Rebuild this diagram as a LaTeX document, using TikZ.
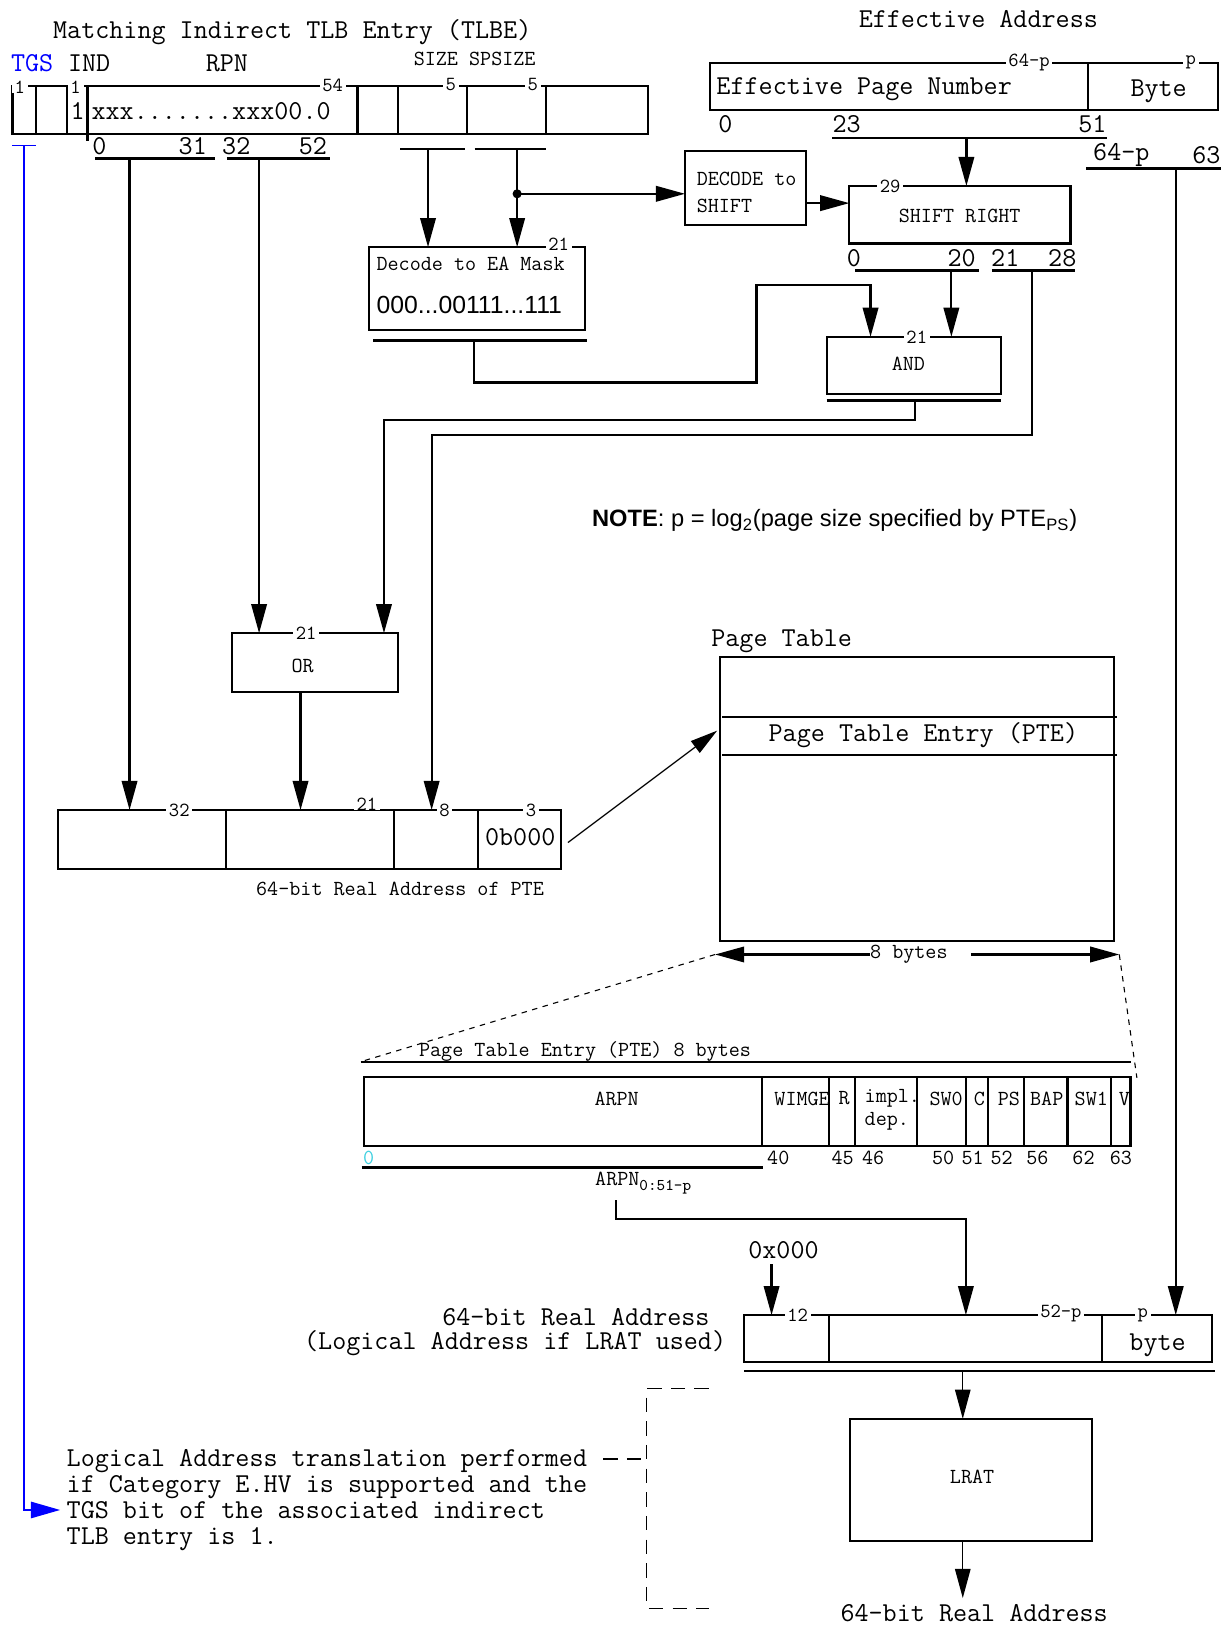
\documentclass[tikz,border=0pt]{standalone}
\usepackage{fontspec}
\setsansfont{Liberation Sans}
\usepackage{tikz}
\usetikzlibrary{arrows.meta, calc}
\definecolor{tgsblue}{HTML}{0000FF}
\definecolor{bitcyan}{HTML}{40D0E0}

\tikzset{
  fieldbox/.style={draw, line width=1.2pt, inner sep=0pt, outer sep=0pt, anchor=north west},
  lbl/.style={font=\fontsize{15}{17}\selectfont\ttfamily, inner sep=0pt},
  mlbl/.style={font=\fontsize{11.8}{14}\selectfont\ttfamily, inner sep=0pt},
  bw/.style={font=\fontsize{11}{12}\selectfont\ttfamily, fill=white, inner xsep=1.5pt, inner ysep=0pt},
  wire/.style={line width=1.2pt},
  arr/.style={wire, -{Triangle[length=16pt,width=8.5pt]}},
  thinarr/.style={line width=0.7pt, -{Triangle[length=16pt,width=8.5pt]}},
  dashline/.style={line width=0.6pt, dash pattern=on 3pt off 3pt},
  dashbr/.style={line width=0.8pt, dash pattern=on 8pt off 5pt},
}

\begin{document}
\begin{tikzpicture}[x=0.02cm, y=-0.02cm]
\useasboundingbox (0,0) rectangle (1186,1568);

% indirect TLB entry
\node[lbl] (tlbetitle) at (282,31) {Matching Indirect TLB Entry (TLBE)};
\node[lbl, tgsblue] (tgs) at (31,61) {TGS};
\node[lbl] (ind) at (86,61) {IND};
\node[lbl] (rpn) at (219,61) {RPN};
\node[mlbl] (sizes) at (458,57) {SIZE SPSIZE};
\node[fieldbox, minimum width=12.26cm, minimum height=0.92cm] (tlbe) at (12,83) {};
\foreach \x in {34.5,65,345,384,451,527} \draw[wire] (\x,83) -- (\x,129);
\draw[wire] (84.5,83) -- (84.5,136);
\node[bw] (tw1) at (19,84) {1};
\node[bw] (tw2) at (73,84) {1};
\node[bw] (tw3) at (321,82) {54};
\node[bw] (tw4) at (435,82) {5};
\node[bw] (tw5) at (514,82) {5};
\node[lbl] (indval) at (75,107) {1};
\node[lbl, anchor=west] (rpnval) at (88,107) {xxx.......xxx00.0};
\node[lbl] (tb0) at (96,141) {0};
\node[lbl] (tb31) at (186,141) {31};
\node[lbl] (tb32) at (228,141) {32};
\node[lbl] (tb52) at (302,141) {52};
\draw[wire] (92,153) -- (207,153);
\draw[wire] (219,153) -- (318,153);
\draw[wire] (386,144) -- (449,144);
\draw[wire] (458,144) -- (527,144);
\coordinate (rpnhi) at (125,153);
\coordinate (rpnlo) at (250,153);
\coordinate (sizeout) at (413,144);
\coordinate (spsizeout) at (499,144);
\coordinate (split) at (499,187);

% effective address
\node[lbl] (eatitle) at (944,18) {Effective Address};
\node[fieldbox, minimum width=9.8cm, minimum height=0.9cm] (ea) at (685,61) {};
\draw[wire] (1050,61) -- (1050,106);
\node[bw] (eaw1) at (993,60) {64-p};
\node[bw] (eaw2) at (1149,60) {p};
\node[lbl, anchor=west] (epn) at (691,86) {Effective Page Number};
\node[lbl] (byte) at (1118,88) {Byte};
\node[lbl] (ea0) at (700,120) {0};
\node[lbl] (ea23) at (817,120) {23};
\node[lbl] (ea51) at (1054,120) {51};
\draw[wire] (803,133.5) -- (1068,133.5);
\coordinate (epnout) at (932.5,133.5);
\node[lbl] (ea64p) at (1082,150) {64-p};
\node[lbl] (ea63) at (1164,150) {63};
\draw[wire] (1048,162.5) -- (1178,162.5);
\coordinate (byteout) at (1134.5,162.5);

% decode and shift
\node[fieldbox, minimum width=4.17cm, minimum height=1.6cm] (eamask) at (356,238.5) {};
\node[bw] (eamaskw) at (539,236) {21};
\node[mlbl, anchor=west] (eamasktxt) at (363,255) {Decode to EA Mask};
\node[font=\fontsize{13.6}{15}\selectfont\sffamily, anchor=west, inner sep=0pt] (eamaskval) at (363,294) {000...00111...111};
\draw[wire] (360,328.5) -- (566,328.5);
\coordinate (maskout) at (457.5,328.5);

\node[fieldbox, minimum width=2.33cm, minimum height=1.43cm] (decshift) at (661,145.5) {};
\node[mlbl, anchor=west, align=left, font=\fontsize{11.8}{14.8}\selectfont\ttfamily] (decshifttxt) at (672,186) {DECODE to\\SHIFT};
\coordinate (dsout) at (777.5,196);

\node[fieldbox, minimum width=4.27cm, minimum height=1.11cm] (shiftr) at (819.5,179.5) {};
\node[bw] (shiftrw) at (859,179.5) {29};
\node[mlbl] (shiftrtxt) at (926,208) {SHIFT RIGHT};
\node[lbl] (sr0) at (824,249) {0};
\node[lbl] (sr20) at (928,249) {20};
\node[lbl] (sr21) at (970,249) {21};
\node[lbl] (sr28) at (1025,249) {28};
\draw[wire] (825,261) -- (945,261);
\draw[wire] (957,261) -- (1037,261);
\coordinate (srlo) at (918,261);
\coordinate (srhi) at (995.5,261);

\node[fieldbox, minimum width=3.366cm, minimum height=1.1cm] (andbox) at (797.7,325) {};
\node[bw] (andw) at (884.6,325) {21};
\node[mlbl] (andtxt) at (876.5,351) {AND};
\draw[wire] (797.7,386.5) -- (966,386.5);
\coordinate (andout) at (883,386.5);
\coordinate (andin) at (840,325);

\draw[arr] (sizeout) -- (sizeout |- eamask.north);
\draw[arr] (spsizeout) -- (spsizeout |- eamask.north);
\fill (split) circle (2.5pt);
\draw[arr] (split) -- (split -| decshift.west);
\draw[arr] (dsout) -- (dsout -| shiftr.west);
\draw[arr] (epnout) -- (epnout |- shiftr.north);
\draw[arr] (srlo) -- (srlo |- andbox.north);
\draw[arr] (maskout) |- (730,369) |- (840,275) -- (andin);

\node[font=\fontsize{13}{15}\selectfont\sffamily, anchor=west, inner sep=0pt] (note) at (571,502) {\textbf{NOTE}: p = log\textsubscript{2}(page size specified by PTE\textsubscript{PS})};

% OR and PTE address
\node[fieldbox, minimum width=3.206cm, minimum height=1.13cm] (orbox) at (223.7,611) {};
\node[bw] (orw) at (295.5,611) {21};
\node[mlbl] (ortxt) at (292,643) {OR};
\coordinate (orin2) at (370.5,611);
\coordinate (orout) at (290,667.5);

\node[fieldbox, minimum width=9.718cm, minimum height=1.144cm] (pteaddr) at (55.8,781.6) {};
\foreach \x in {217.8,379.8,461} \draw[wire] (\x,781.6) -- (\x,838.8);
\node[bw] (paw1) at (173,781.6) {32};
\node[bw] (paw2) at (354,776) {21};
\node[bw] (paw3) at (429,781.6) {8};
\node[bw] (paw4) at (512.5,781.6) {3};
\node[lbl] (zeros) at (502,808) {0b000};
\node[mlbl] (pacap) at (386,858) {64-bit Real Address of PTE};
\coordinate (pain3) at (416.5,781.6);

\draw[arr] (rpnlo) -- (rpnlo |- orbox.north);
\draw[arr] (andout) |- (370.5,405) -- (orin2);
\draw[arr] (rpnhi) -- (rpnhi |- pteaddr.north);
\draw[arr] (orout) -- (orout |- pteaddr.north);
\draw[arr] (srhi) |- (416.5,420) -- (pain3);

% page table
\node[lbl, anchor=west] (pttitle) at (686,619) {Page Table};
\node[fieldbox, minimum width=7.604cm, minimum height=5.48cm] (ptable) at (694.6,633.7) {};
\draw[wire] (696.7,691.6) -- (1077.7,691.6);
\draw[wire] (696.7,728.5) -- (1077.7,728.5);
\node[lbl] (ptetxt) at (891,709) {Page Table Entry (PTE)};
\coordinate (pafrom) at (548,813);
\coordinate (ptin) at (692,705);
\draw[line width=0.7pt, -{Triangle[length=15pt,width=8pt]}] (pafrom) -- (ptin);

\node[mlbl, fill=white] (eightb) at (877,921) {8 bytes};
\coordinate (bytesl) at (690,921);
\coordinate (bytesr) at (1080,921);
\draw[arr] (eightb.west) -- (bytesl);
\draw[arr] ($(eightb.east)+(22,0)$) -- (bytesr);

% PTE fields
\coordinate (ptecapl) at (348,1024.5);
\coordinate (ptecapr) at (1091,1024.5);
\coordinate (ptecorner) at (1097,1040);
\draw[dashline] (bytesl) -- (ptecapl);
\draw[dashline] (bytesr) -- (ptecorner);
\node[mlbl, anchor=west] (ptecap) at (404,1015) {Page Table Entry (PTE) 8 bytes};
\draw[wire] (ptecapl) -- (ptecapr);
\node[fieldbox, minimum width=14.79cm, minimum height=1.338cm] (pte) at (351.5,1039) {};
\foreach \x in {735.5,799.6,825.2,885.2,932,953.2,987.7,1030,1072.3} \draw[wire] (\x,1039) -- (\x,1106);
\foreach \x/\t [count=\i] in {595/ARPN,774/WIMGE,814.5/R,913/SW0,945/C,973.5/PS,1010/BAP,1053/SW1,1085/V}
  \node[mlbl] (fld\i) at (\x,1060) {\t};
\node[mlbl, anchor=west] (impl) at (834,1060) {impl.};
\node[mlbl, anchor=west] (dep) at (834,1082) {dep.};
\node[mlbl, bitcyan, anchor=west] (pb0) at (350,1117) {0};
\foreach \x/\t [count=\i] in {751/40,813/45,842.5/46,910/50,938.5/51,966.5/52,1001/56,1045.5/62,1081.5/63}
  \node[mlbl] (pb\i) at (\x,1117) {\t};
\draw[wire] (349,1126.5) -- (736,1126.5);
\node[mlbl, anchor=west] (arpnsub) at (574,1141.5) {ARPN\raisebox{-0.6ex}{\fontsize{9}{10}\selectfont 0:51-p}};
\coordinate (arpnout) at (594,1158);
\coordinate (rain) at (932,1269);

% real address
\node[fieldbox, minimum width=9.03cm, minimum height=0.912cm] (realaddr) at (718.2,1269) {};
\draw[wire] (800,1269) -- (800,1314.6);
\draw[wire] (1063.4,1269) -- (1063.4,1314.6);
\node[bw] (raw1) at (769.6,1269) {12};
\node[bw] (raw2) at (1023.7,1267) {52-p};
\node[bw] (raw3) at (1102.6,1269) {p};
\node[lbl] (rabyte) at (1117,1298) {byte};
\node[lbl] (hex0) at (756,1206) {0x000};
\coordinate (hexout) at (744.5,1220);
\node[lbl, anchor=east] (ratxt1) at (685,1270.5) {64-bit Real Address};
\node[lbl, anchor=east] (ratxt2) at (701,1296) {(Logical Address if LRAT used)};
\draw[wire] (718,1323) -- (1172,1323);
\coordinate (raout) at (929,1323);

\draw[arr] (arpnout) |- (932,1176) -- (rain);
\draw[arr] (hexout) -- (hexout |- realaddr.north);
\draw[arr] (byteout) -- (byteout |- realaddr.north);

% LRAT
\node[fieldbox, minimum width=4.66cm, minimum height=2.36cm] (lrat) at (820.5,1369) {};
\node[mlbl] (lrattxt) at (938,1425) {LRAT};
\coordinate (final) at (929,1542);
\draw[thinarr] (raout) -- (raout |- lrat.north);
\draw[thinarr] (final |- lrat.south) -- (final);
\node[lbl] (finaltxt) at (940,1557) {64-bit Real Address};

\foreach \t [count=\i] in {Logical Address translation performed, if Category E.HV is supported and the, TGS bit of the associated indirect, TLB entry is 1.}
  \node[lbl, anchor=base west] (lanote\i) at (64,1390+25*\i) {\t};
\coordinate (tick) at (582,1408);
\draw[dashbr] (684,1340) -| (624,1552) -- (684,1552);
\draw[dashbr] (tick) -- (624,1408);

% TGS path
\coordinate (tgsout) at (23,140.5);
\coordinate (tgsin) at (58,1457);
\draw[tgsblue, line width=0.8pt] (12,140.5) -- (35,140.5);
\draw[tgsblue, line width=0.8pt, -{Triangle[length=16pt,width=9pt]}] (tgsout) |- (tgsin);
\end{tikzpicture}
\end{document}
